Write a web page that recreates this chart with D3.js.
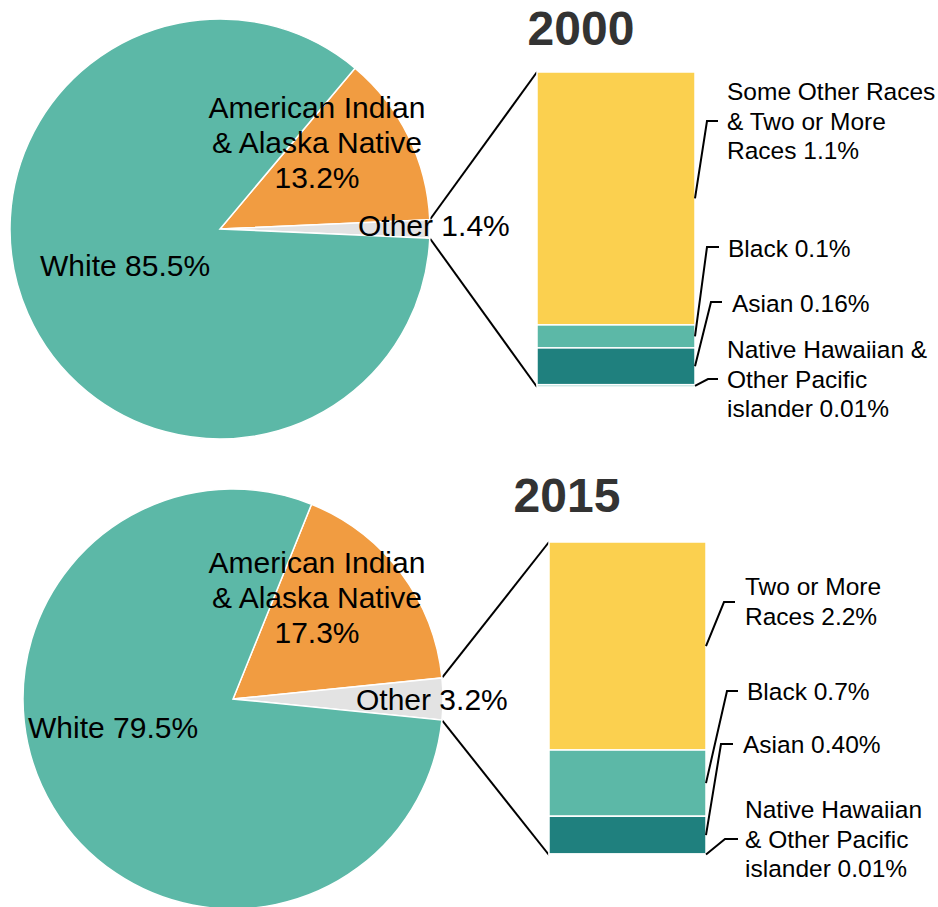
<!DOCTYPE html>
<html>
<head>
<meta charset="utf-8">
<script src="https://cdn.jsdelivr.net/npm/d3@7"></script>
<style>
  html, body { margin: 0; padding: 0; background: #fff; }
  svg { display: block; }
  text { font-family: "Liberation Sans", Arial, sans-serif; fill: #000; }
</style>
</head>
<body>
<div id="chart"></div>
<script>
// data
var years = ['2000', '2015'];
var pieCategories = ['American Indian & Alaska Native', 'Other', 'White'];
var pieValues2000 = [13.2, 1.4, 85.5];
var pieValues2015 = [17.3, 3.2, 79.5];
var pieLabels2000 = [['American Indian', '& Alaska Native', '13.2%'], ['Other 1.4%'], ['White 85.5%']];
var pieLabels2015 = [['American Indian', '& Alaska Native', '17.3%'], ['Other 3.2%'], ['White 79.5%']];

var barCategories = ['Some Other Races & Two or More Races', 'Black', 'Asian', 'Native Hawaiian & Other Pacific islander'];
var barValues2000 = [1.1, 0.1, 0.16, 0.01];
var barValues2015 = [2.2, 0.7, 0.40, 0.01];
var barLabels2000 = [['Some Other Races', '& Two or More', 'Races 1.1%'], ['Black 0.1%'], ['Asian 0.16%'], ['Native Hawaiian &', 'Other Pacific', 'islander 0.01%']];
var barLabels2015 = [['Two or More', 'Races 2.2%'], ['Black 0.7%'], ['Asian 0.40%'], ['Native Hawaiian', '& Other Pacific', 'islander 0.01%']];

var pieColors = ['#f19c41', '#e3e3e3', '#5cb8a7'];
var barColors = ['#fbd04f', '#5cb8a7', '#1f807e', '#a7d6cf'];

// layout
var panels = [
    {
        year: years[0], pie: pieValues2000, pieLabels: pieLabels2000, bar: barValues2000, barLabels: barLabels2000,
        cx: 220, cy: 229, r: 210,
        title: [581, 45],
        barX: 537, barW: 158, barTop: 72, barBottom: 387,
        pieLabelPos: [[317, 118, 'middle'], [358, 236, 'start'], [40, 276, 'start']],
        leaders: [[707, 121, 718, 727, 100], [707, 247, 719, 728, 257], [711, 302, 722, 732, 312], [708, 379, 718, 727, 358]]
    },
    {
        year: years[1], pie: pieValues2015, pieLabels: pieLabels2015, bar: barValues2015, barLabels: barLabels2015,
        cx: 233, cy: 699, r: 210,
        title: [567, 512],
        barX: 549, barW: 157, barTop: 542, barBottom: 855,
        pieLabelPos: [[317, 573, 'middle'], [356, 710, 'start'], [28, 738, 'start']],
        leaders: [[724, 602, 735, 745, 595], [727, 691, 738, 747, 700], [721, 744, 733, 743, 753], [725, 839, 738, 745, 818]]
    }
];

var width = 938, height = 907;
var svg = d3.select('#chart').append('svg').attr('width', width).attr('height', height);

panels.forEach(function (p) {
    var total = d3.sum(p.pie);
    var start = Math.PI / 2 - 2 * Math.PI * (p.pie[0] + p.pie[1] / 2) / total;
    var pie = d3.pie().sort(null).startAngle(start).endAngle(start + 2 * Math.PI);
    var arcs = pie(p.pie);
    var arc = d3.arc().innerRadius(0).outerRadius(p.r);

    var g = svg.append('g');

    // connectors from the Other slice to the bar
    var other = arcs[1];
    var pt = function (a) { return [p.cx + p.r * Math.sin(a), p.cy - p.r * Math.cos(a)]; };
    var a0 = pt(other.startAngle), a1 = pt(other.endAngle);
    g.append('line').attr('x1', a0[0]).attr('y1', a0[1]).attr('x2', p.barX).attr('y2', p.barTop)
        .attr('stroke', '#000').attr('stroke-width', 2);
    g.append('line').attr('x1', a1[0]).attr('y1', a1[1]).attr('x2', p.barX).attr('y2', p.barBottom)
        .attr('stroke', '#000').attr('stroke-width', 2);

    g.append('g').attr('transform', 'translate(' + p.cx + ',' + p.cy + ')')
        .selectAll('path').data(arcs).enter().append('path')
        .attr('d', arc)
        .attr('fill', function (d, i) { return pieColors[i]; })
        .attr('stroke', '#fff').attr('stroke-width', 1.5);

    // stacked bar
    var y = d3.scaleLinear().domain([0, d3.sum(p.bar)]).range([p.barTop, p.barBottom]);
    var cum = 0;
    var segs = p.bar.map(function (v, i) {
        var s = { i: i, y0: cum, y1: cum + v };
        cum += v;
        return s;
    });
    g.selectAll('rect.seg').data(segs).enter().append('rect')
        .attr('class', 'seg')
        .attr('x', p.barX)
        .attr('width', p.barW)
        .attr('y', function (d) { return y(d.y0); })
        .attr('height', function (d) { return y(d.y1) - y(d.y0); })
        .attr('fill', function (d) { return barColors[d.i]; })
        .attr('stroke', '#fff').attr('stroke-width', 1.5);

    // bar leaders and labels
    var bx = p.barX + p.barW;
    segs.forEach(function (s) {
        var L = p.leaders[s.i];
        var my = (y(s.y0) + y(s.y1)) / 2;
        g.append('polyline')
            .attr('points', [[bx, my], [L[0], L[1]], [L[2], L[1]]].join(' '))
            .attr('fill', 'none').attr('stroke', '#000').attr('stroke-width', 2);
        var t = g.append('text').attr('x', L[3]).attr('y', L[4]).attr('font-size', 24.5);
        p.barLabels[s.i].forEach(function (line, k) {
            t.append('tspan').attr('x', L[3]).attr('dy', k === 0 ? 0 : 29.5).text(line);
        });
    });

    // pie labels
    p.pieLabels.forEach(function (lines, i) {
        var pos = p.pieLabelPos[i];
        var t = g.append('text').attr('x', pos[0]).attr('y', pos[1])
            .attr('text-anchor', pos[2]).attr('font-size', 30);
        lines.forEach(function (line, k) {
            t.append('tspan').attr('x', pos[0]).attr('dy', k === 0 ? 0 : 35).text(line);
        });
    });

    // year title
    g.append('text').attr('x', p.title[0]).attr('y', p.title[1])
        .attr('text-anchor', 'middle').attr('font-size', 48).attr('font-weight', 'bold')
        .style('fill', '#333').text(p.year);
});
</script>
</body>
</html>
